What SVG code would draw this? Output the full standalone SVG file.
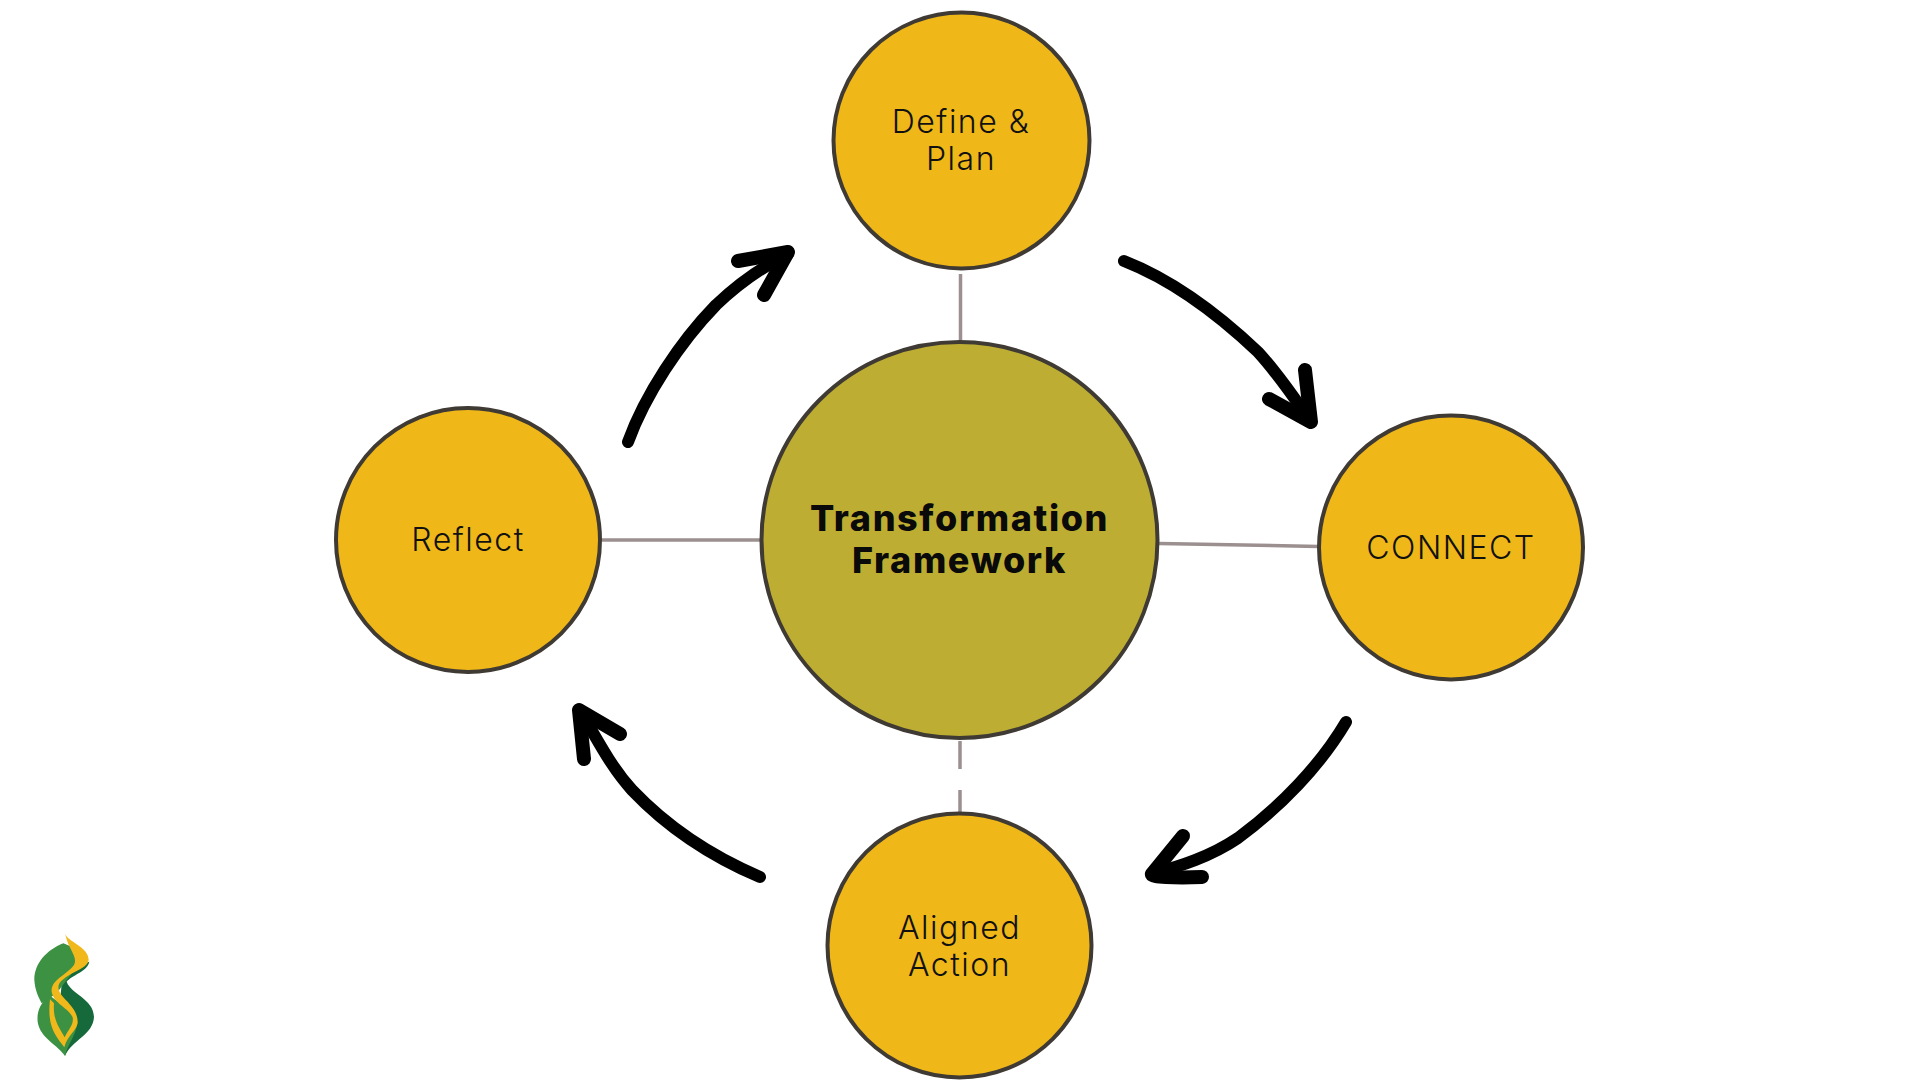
<svg xmlns="http://www.w3.org/2000/svg" width="1920" height="1080" viewBox="0 0 1920 1080">
<style>
.n{fill:#efb718;stroke:#3f3a33;stroke-width:4}
.c{fill:#bdae33;stroke:#3f3a33;stroke-width:4}
.t{font-family:"Inter","Liberation Sans",sans-serif;font-weight:300;font-size:32px;letter-spacing:1.5px;fill:#111;text-anchor:middle}
.b{font-family:"Inter","Liberation Sans",sans-serif;font-weight:800;font-size:36px;letter-spacing:1.6px;fill:#0a0a0a;text-anchor:middle}
.l{stroke:#9b8f8f;stroke-width:3.5;fill:none}
.a{stroke:#000;stroke-width:12;fill:none;stroke-linecap:round;stroke-linejoin:round}
.h{stroke:#000;stroke-width:14;fill:none;stroke-linecap:round;stroke-linejoin:round}
</style>
<rect width="1920" height="1080" fill="#fff"/>
<g id="connectors">
<path class="l" d="M960.500 274V340"/>
<path class="l" d="M602 540H761"/>
<path class="l" d="M1159 543.500L1319 546.500"/>
<path class="l" d="M960 741V769M960 790V813"/>
<path class="a" d="M1124 261C1175 281 1218 314 1258 352C1280 376 1297 402 1311 422"/>
<path class="h" d="M1305 370L1311 422L1269 399"/>
<path class="a" d="M1346 722C1320 766 1280 807 1238 838C1210 857 1180 866 1152 874"/>
<path class="h" d="M1183 836L1152 874C1150 877 1175 878 1202 877"/>
<path class="a" d="M760 877C720 860 672 832 632 790C610 766 597 738 580 711"/>
<path class="h" d="M620 734L579 710L584 759"/>
<path class="a" d="M628 442C645 395 680 342 716 305C738 284 760 268 788 254"/>
<path class="h" d="M738 261L788 252L764 295"/>
</g>
<g id="center"><circle class="c" cx="959.500" cy="540" r="198"/><text class="b" x="959.500" y="531">Transformation</text><text class="b" x="959.500" y="573">Framework</text></g>
<g id="define-plan"><circle class="n" cx="961.500" cy="140.500" r="128"/><text class="t" x="961" y="133">Define &amp;</text><text class="t" x="961" y="170">Plan</text></g>
<g id="connect"><circle class="n" cx="1451" cy="547.500" r="132"/><text class="t" x="1451" y="559">CONNECT</text></g>
<g id="reflect"><circle class="n" cx="468" cy="540" r="132"/><text class="t" x="468" y="551">Reflect</text></g>
<g id="aligned-action"><circle class="n" cx="959.500" cy="945.500" r="132"/><text class="t" x="959.500" y="939">Aligned</text><text class="t" x="959.500" y="976">Action</text></g>
<g id="logo" transform="translate(0 900) scale(.3333)">
<path fill="#15693a" d="M268 185C262 215 215 225 200 245C215 285 280 295 282 350C280 405 215 420 195 468L180 300L190 210Z"/>
<path fill="#3c9142" d="M190 130C140 150 103 190 103 240C105 270 115 290 125 310L170 280L200 240L240 190L215 140Z"/>
<path fill="#3c9142" d="M150 285C120 310 110 335 113 365C120 415 175 435 195 468C205 425 235 400 230 360C220 320 170 310 150 285Z"/>
<path fill="#f0b81a" d="M195 100C200 125 266 140 266 180C262 205 222 212 192 236C168 252 172 272 190 292C208 312 235 335 233 370C228 395 203 405 193 442C170 410 140 385 150 298L162 310C158 360 178 382 194 412C205 388 222 375 218 352C208 325 160 310 155 275C152 240 200 225 222 195C235 170 205 150 195 100Z"/>
</g>
</svg>
